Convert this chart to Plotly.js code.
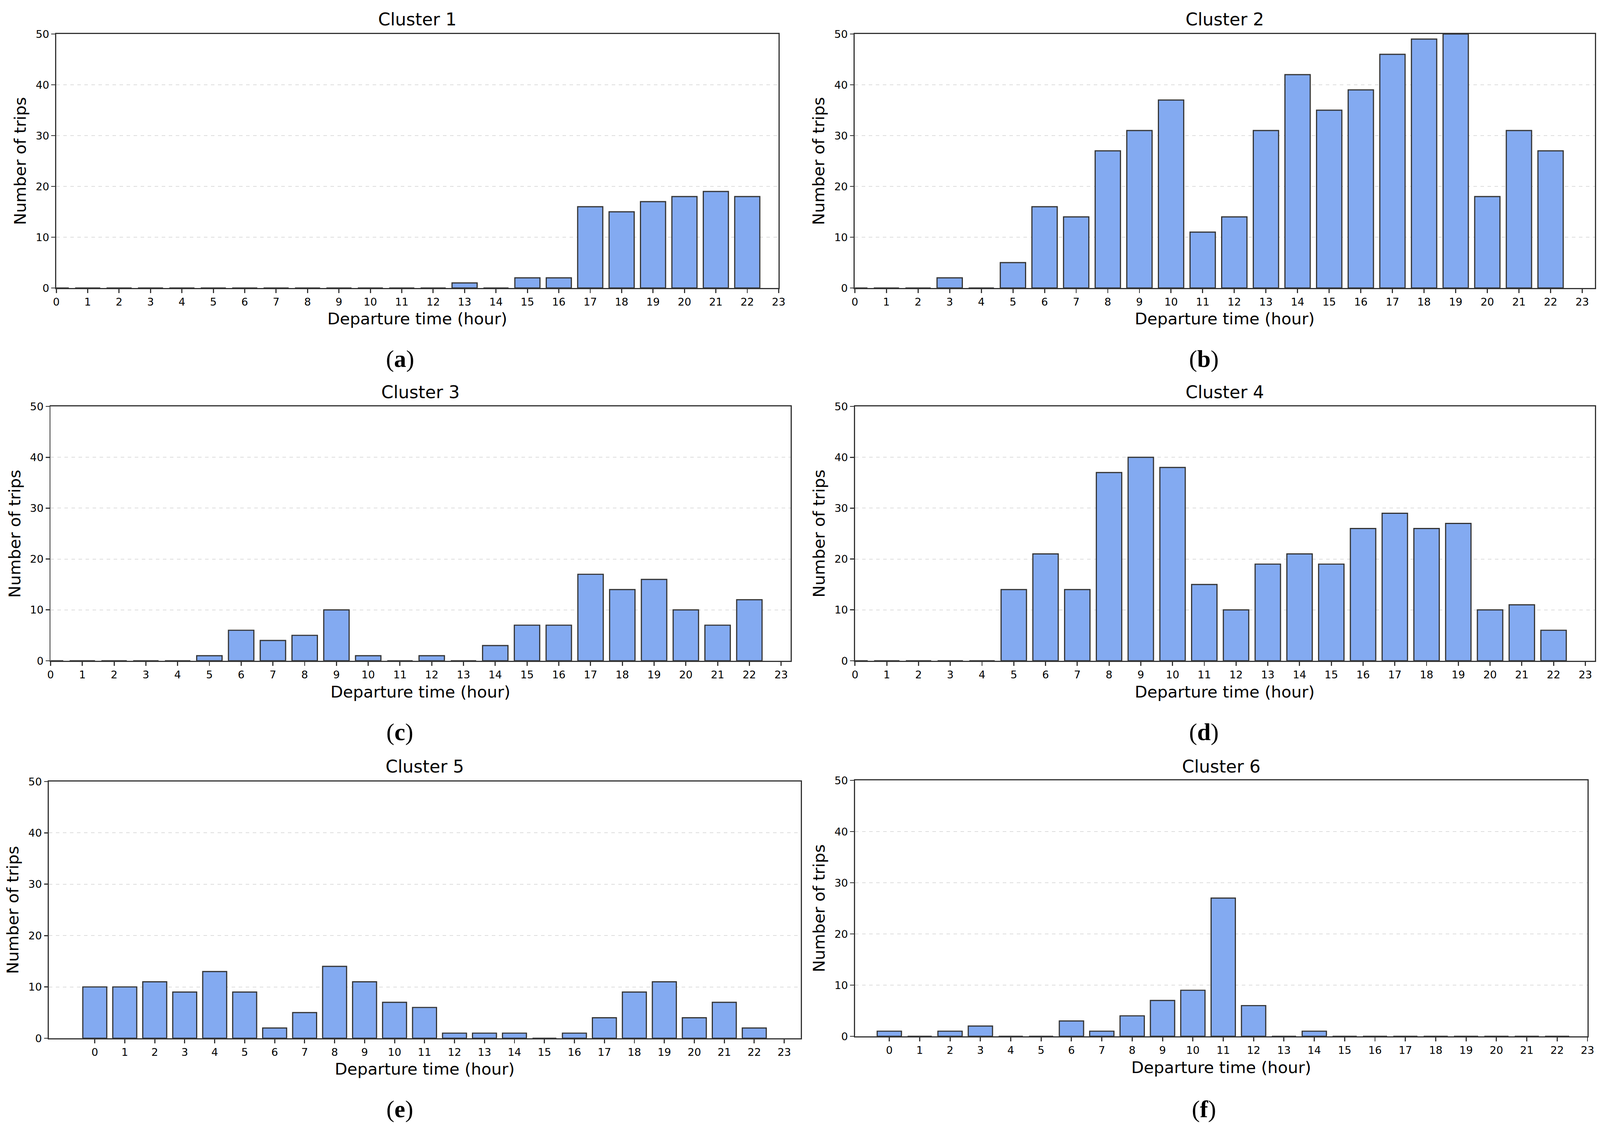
<!DOCTYPE html>
<html>
<head>
<meta charset="utf-8">
<script src="https://cdn.plot.ly/plotly-3.0.1.min.js"></script>
<style>html,body{margin:0;padding:0;background:#fff;overflow:hidden}</style>
</head>
<body>
<div id="chart"></div>
<script>
// ---- data ----
const hours = [0,1,2,3,4,5,6,7,8,9,10,11,12,13,14,15,16,17,18,19,20,21,22];
const tickHours = [0,1,2,3,4,5,6,7,8,9,10,11,12,13,14,15,16,17,18,19,20,21,22,23];
const yTicks = [0,10,20,30,40,50];

const cluster1 = [0,0,0,0,0,0,0,0,0,0,0,0,0,1,0,2,2,16,15,17,18,19,18];
const cluster2 = [0,0,0,2,0,5,16,14,27,31,37,11,14,31,42,35,39,46,49,50,18,31,27];
const cluster3 = [0,0,0,0,0,1,6,4,5,10,1,0,1,0,3,7,7,17,14,16,10,7,12];
const cluster4 = [0,0,0,0,0,14,21,14,37,40,38,15,10,19,21,19,26,29,26,27,10,11,6];
const cluster5 = [10,10,11,9,13,9,2,5,14,11,7,6,1,1,1,0,1,4,9,11,4,7,2];
const cluster6 = [1,0,1,2,0,0,3,1,4,7,9,27,6,0,1,0,0,0,0,0,0,0,0];

const clusterTitles = ["Cluster 1","Cluster 2","Cluster 3","Cluster 4","Cluster 5","Cluster 6"];
const panelLetters = ["a","b","c","d","e","f"];
const xTitle = "Departure time (hour)";
const yTitle = "Number of trips";

const series = [cluster1, cluster2, cluster3, cluster4, cluster5, cluster6];

// ---- layout geometry (reference pixels in a 4350x2902 figure, mapped onto the viewport) ----
const RW = 4350, RH = 2902;
const W = window.innerWidth || RW;
const H = window.innerHeight || RH;
const k = Math.sqrt((W / RW) * (H / RH));
const el = document.getElementById('chart');
el.style.width = W + 'px';
el.style.height = H + 'px';

const boxes = [
  {l:153,   r:2117,   t:87,   b:737,  xr:[0,23]},
  {l:2324,  r:4336,   t:87,   b:737,  xr:[0,23.4]},
  {l:137.5, r:2149.6, t:1040, b:1691, xr:[0,23.3]},
  {l:2324.6,r:4336,   t:1040, b:1691, xr:[0,23.3]},
  {l:133,   r:2177,   t:2000, b:2657, xr:[-1.53,23.55]},
  {l:2324.6,r:4316,   t:1997, b:2652, xr:[-1.13,23]}
];
const titleY = [50, 50, 1004, 1004, 1962, 1962];
const xTitleY = [816, 816, 1770, 1770, 2735, 2731];
const labelY = [918, 918, 1873, 1873, 2838, 2838];

const FONT = "DejaVu Sans, Verdana, sans-serif";
const AX = '#333333';

const traces = [];
const layout = {
  width: W, height: H,
  margin: {l:0, r:0, t:0, b:0, pad:0},
  paper_bgcolor: '#ffffff',
  plot_bgcolor: '#ffffff',
  showlegend: false,
  annotations: []
};

const px = v => v / RW;
const py = v => 1 - v / RH;
const s = v => v * k;

series.forEach((vals, i) => {
  const n = i === 0 ? '' : String(i + 1);
  const bx = boxes[i];
  traces.push({
    type: 'bar',
    x: hours,
    y: vals,
    width: 0.8,
    xaxis: 'x' + n,
    yaxis: 'y' + n,
    marker: {color: '#83AAF1', line: {color: AX, width: s(3)}},
    hoverinfo: 'skip'
  });
  layout['xaxis' + n] = {
    domain: [px(bx.l), px(bx.r)],
    range: bx.xr,
    anchor: 'y' + n,
    tickmode: 'array',
    tickvals: tickHours,
    ticktext: tickHours.map(String),
    ticks: 'outside', ticklen: s(10), tickwidth: s(3), tickcolor: AX,
    showline: true, linewidth: s(3), linecolor: AX, mirror: true,
    showgrid: false, zeroline: false,
    tickfont: {family: FONT, size: s(28), color: '#000000'}
  };
  layout['yaxis' + n] = {
    domain: [py(bx.b), py(bx.t)],
    range: [0, 50],
    anchor: 'x' + n,
    tickmode: 'array',
    tickvals: yTicks,
    ticktext: yTicks.map(String),
    ticks: 'outside', ticklen: s(10), tickwidth: s(3), tickcolor: AX,
    showline: true, linewidth: s(3), linecolor: AX, mirror: true,
    showgrid: true, gridcolor: '#dddddd', gridwidth: s(2), griddash: 'dash',
    zeroline: false,
    tickfont: {family: FONT, size: s(28), color: '#000000'}
  };
  const cx = (bx.l + bx.r) / 2;
  const cy = (bx.t + bx.b) / 2;
  layout.annotations.push(
    {text: clusterTitles[i], x: px(cx), y: py(titleY[i]), xref: 'paper', yref: 'paper',
     xanchor: 'center', yanchor: 'middle', showarrow: false,
     font: {family: FONT, size: s(46), color: '#000000'}},
    {text: xTitle, x: px(cx), y: py(xTitleY[i]), xref: 'paper', yref: 'paper',
     xanchor: 'center', yanchor: 'middle', showarrow: false,
     font: {family: FONT, size: s(43), color: '#000000'}},
    {text: yTitle, x: px(bx.l - 98), y: py(cy), xref: 'paper', yref: 'paper',
     xanchor: 'center', yanchor: 'middle', showarrow: false, textangle: -90,
     font: {family: FONT, size: s(43), color: '#000000'}},
    {text: '(<b>' + panelLetters[i] + '</b>)', x: px(i % 2 === 0 ? 1087 : 3273), y: py(labelY[i]),
     xref: 'paper', yref: 'paper', xanchor: 'center', yanchor: 'middle', showarrow: false,
     font: {family: "Liberation Serif, Times New Roman, serif", size: s(64), color: '#000000'}}
  );
});

Plotly.newPlot('chart', traces, layout, {staticPlot: true, displayModeBar: false});
</script>
</body>
</html>
